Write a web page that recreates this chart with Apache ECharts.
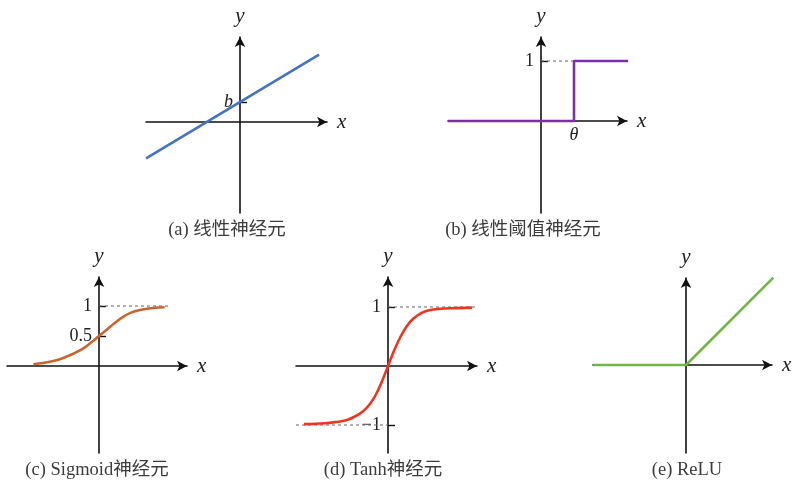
<!DOCTYPE html>
<html>
<head>
<meta charset="utf-8">
<script src="https://cdn.jsdelivr.net/npm/echarts@6/dist/echarts.min.js"></script>
<style>
  html, body { margin: 0; padding: 0; background: #fff; }
  #chart { width: 795px; height: 483px; }
</style>
</head>
<body>
<div id="chart"></div>
<script>
// (a) linear neuron: straight line with bias b
const linearX = [-1.01, 0.85];
const linearY = [-0.40, 0.74];
const linearTicks = [0.22];
const linearTickText = ['b'];

// (b) linear threshold neuron: step at theta
const stepX = [-2.82, 1, 1, 2.64];
const stepY = [0, 0, 1, 1];
const stepThetaTicks = [1];
const stepThetaText = ['θ'];
const stepLevelTicks = [1];
const stepLevelText = ['1'];
const stepGuideX = [0, 1];
const stepGuideY = [1, 1];

// (c) sigmoid neuron
const sigmoidX = [-4.1, -3.5, -3, -2.5, -2, -1.5, -1, -0.5, 0, 0.5, 1, 1.5, 2, 2.5, 3, 3.5, 4.1];
const sigmoidY = [0.03, 0.05, 0.075, 0.11, 0.16, 0.22, 0.29, 0.39, 0.5, 0.61, 0.72, 0.82, 0.89, 0.93, 0.955, 0.97, 0.98];
const sigmoidTicks = [0.5, 1];
const sigmoidTickText = ['0.5', '1'];
const sigmoidGuideX = [0, 4.44];
const sigmoidGuideY = [1, 1];

// (d) tanh neuron
const tanhX = [-4.0, -3.0, -2.5, -2.0, -1.6, -1.2, -0.9, -0.6, -0.3, 0, 0.3, 0.6, 0.9, 1.2, 1.6, 2.0, 2.5, 3.0, 4.0];
const tanhY = [-0.985, -0.97, -0.95, -0.92, -0.86, -0.77, -0.66, -0.5, -0.27, 0, 0.27, 0.5, 0.68, 0.8, 0.9, 0.95, 0.97, 0.98, 0.99];
const tanhTicks = [-1, 1];
const tanhTickText = ['\u22121', '1'];
const tanhUpperGuideX = [0, 4.86];
const tanhUpperGuideY = [1, 1];
const tanhLowerGuideX = [-4.38, 0];
const tanhLowerGuideY = [-1, -1];

// (e) ReLU
const reluX = [-1.03, 0, 0.97];
const reluY = [0, 0, 0.97];

// captions
const captions = ['(a) 线性神经元', '(b) 线性阈值神经元', '(c) Sigmoid神经元', '(d) Tanh神经元', '(e) ReLU'];

const zip = (xs, ys) => xs.map((x, i) => [x, ys[i]]);

// Panel frames in pixels: axis extents, origin and unit size
const frames = [
  { x0: 146, x1: 327, y0: 37, y1: 213, ox: 240, oy: 122, ux: 93, uy: 91 },
  { x0: 448, x1: 627, y0: 37, y1: 213, ox: 541, oy: 121, ux: 33, uy: 60 },
  { x0: 7,   x1: 187, y0: 277, y1: 453, ox: 99, oy: 366, ux: 16, uy: 60 },
  { x0: 296, x1: 477, y0: 277, y1: 453, ox: 388, oy: 366, ux: 21, uy: 59 },
  { x0: 593, x1: 772, y0: 278, y1: 453, ox: 686, oy: 365, ux: 90, uy: 90 }
];
const captionPos = [[227, 230], [523, 230], [97, 470], [383, 470], [687, 470]];

const SERIF = '"Liberation Serif", "DejaVu Serif", serif';
const axisColor = '#111';

const grids = [], xAxes = [], yAxes = [];

// tick configs per panel
const yTickDefs = [
  { values: linearTicks, text: linearTickText, italic: true },
  { values: stepLevelTicks, text: stepLevelText, italic: false },
  { values: sigmoidTicks, text: sigmoidTickText, italic: false },
  { values: tanhTicks, text: tanhTickText, italic: false },
  null
];
const xTickDefs = [null, { values: stepThetaTicks, text: stepThetaText, italic: true }, null, null, null];

frames.forEach((f, i) => {
  grids.push({
    left: f.x0, top: f.y0, width: f.x1 - f.x0, height: f.y1 - f.y0,
    containLabel: false, outerBoundsMode: 'none'
  });
  const line = {
    onZero: false,
    symbol: ['none', 'arrow'],
    symbolSize: [8, 10],
    lineStyle: { color: axisColor, width: 1.6 }
  };
  const nameStyle = { fontFamily: SERIF, fontStyle: 'italic', fontSize: 21, color: '#222' };
  const xt = xTickDefs[i];
  // axes are shifted from the grid edge onto the origin
  xAxes.push({
    type: 'value', gridIndex: i, position: 'bottom', offset: -(f.y1 - f.oy),
    min: (f.x0 - f.ox) / f.ux, max: (f.x1 - f.ox) / f.ux,
    axisLine: line,
    splitLine: { show: false },
    axisTick: { show: false },
    axisLabel: xt ? {
      show: true, customValues: xt.values, margin: 5,
      formatter: v => xt.text[xt.values.indexOf(v)],
      fontFamily: SERIF, fontStyle: xt.italic ? 'italic' : 'normal', fontSize: 18, color: '#222'
    } : { show: false },
    name: 'x', nameLocation: 'end', nameGap: 10,
    nameTextStyle: Object.assign({ align: 'left', verticalAlign: 'middle' }, nameStyle)
  });
  const yt = yTickDefs[i];
  yAxes.push({
    type: 'value', gridIndex: i, position: 'left', offset: -(f.ox - f.x0),
    min: (f.oy - f.y1) / f.uy, max: (f.oy - f.y0) / f.uy,
    axisLine: line,
    splitLine: { show: false },
    axisTick: yt ? { show: true, inside: true, length: 7, customValues: yt.values,
                     lineStyle: { color: axisColor, width: 1.4 } } : { show: false },
    axisLabel: yt ? {
      show: true, customValues: yt.values, margin: 7,
      formatter: v => yt.text[yt.values.indexOf(v)],
      fontFamily: SERIF, fontStyle: yt.italic ? 'italic' : 'normal', fontSize: 18, color: '#222'
    } : { show: false },
    name: 'y', nameLocation: 'end', nameGap: 10,
    nameTextStyle: Object.assign({ align: 'center', verticalAlign: 'bottom' }, nameStyle)
  });
});

function curve(i, data, color, smooth) {
  return {
    type: 'line', xAxisIndex: i, yAxisIndex: i, data: data,
    showSymbol: false, symbol: 'none', clip: false,
    smooth: smooth ? 0.4 : false,
    lineStyle: { color: color, width: 2.6 }, z: 5, silent: true
  };
}
function guide(i, data) {
  return {
    type: 'line', xAxisIndex: i, yAxisIndex: i, data: data,
    showSymbol: false, symbol: 'none', clip: false,
    lineStyle: { color: '#666', width: 1, type: [3, 3] }, z: 1, silent: true
  };
}

const series = [
  curve(0, zip(linearX, linearY), '#4472C4', false),
  guide(1, zip(stepGuideX, stepGuideY)),
  curve(1, zip(stepX, stepY), '#7B30A8', false),
  guide(2, zip(sigmoidGuideX, sigmoidGuideY)),
  curve(2, zip(sigmoidX, sigmoidY), '#C9642C', true),
  guide(3, zip(tanhUpperGuideX, tanhUpperGuideY)),
  guide(3, zip(tanhLowerGuideX, tanhLowerGuideY)),
  curve(3, zip(tanhX, tanhY), '#F0341E', true),
  curve(4, zip(reluX, reluY), '#72B64A', false)
];

const graphic = captions.map((t, i) => ({
  type: 'text', x: captionPos[i][0], y: captionPos[i][1], silent: true,
  style: {
    text: t, align: 'center', verticalAlign: 'middle',
    font: '18.5px "Liberation Serif", "Noto Sans CJK SC", serif',
    fill: '#3c3c3c'
  }
}));

const chart = echarts.init(document.getElementById('chart'), null, { renderer: 'canvas' });
chart.setOption({
  animation: false,
  backgroundColor: '#fff',
  grid: grids, xAxis: xAxes, yAxis: yAxes,
  series: series,
  graphic: graphic
});
</script>
</body>
</html>
